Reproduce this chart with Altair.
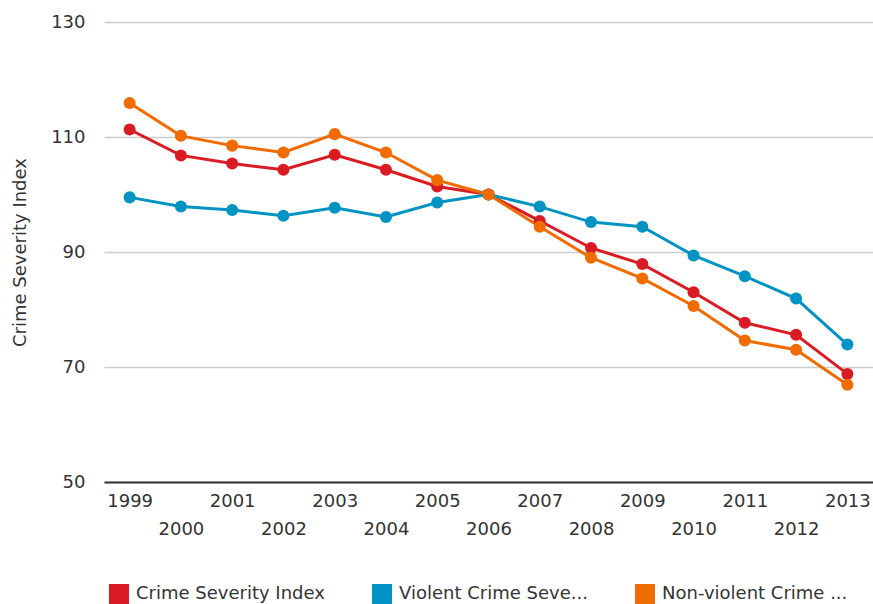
import altair as alt
import pandas as pd

years = ["1999", "2000", "2001", "2002", "2003", "2004", "2005", "2006",
         "2007", "2008", "2009", "2010", "2011", "2012", "2013"]
series_names = ["Crime Severity Index",
                "Violent Crime Severity Index",
                "Non-violent Crime Severity Index"]
csi = [111.3, 106.8, 105.4, 104.3, 106.9, 104.3, 101.4, 100.0,
       95.4, 90.7, 87.9, 83.0, 77.7, 75.6, 68.8]
vcsi = [99.5, 97.9, 97.3, 96.3, 97.7, 96.1, 98.6, 100.0,
        97.9, 95.2, 94.4, 89.4, 85.8, 81.9, 73.9]
nvcsi = [115.9, 110.2, 108.5, 107.3, 110.5, 107.3, 102.5, 100.0,
         94.4, 89.0, 85.4, 80.6, 74.6, 73.0, 66.9]
colors = ["#db1b23", "#0093c4", "#f06b00"]
y_ticks = [50, 70, 90, 110, 130]

rows = []
for name, vals in zip(series_names, [csi, vcsi, nvcsi]):
    for y, v in zip(years, vals):
        rows.append({"year": y, "series": name, "value": v})
df = pd.DataFrame(rows)

FONT = "DejaVu Sans"
FS = 18

x = alt.X("year:O", sort=years, title=None,
          scale=alt.Scale(type="point", padding=0.5),
          axis=alt.Axis(labelAngle=0, ticks=False, tickSize=0, grid=False,
                        domainColor="#333333", domainWidth=2,
                        labelPadding=10, labelLineHeight=28,
                        labelFont=FONT, labelFontSize=FS, labelColor="#333333",
                        labelExpr="toNumber(datum.value) % 2 == 0 ? ['', datum.label] : datum.label"))
y = alt.Y("value:Q", title="Crime Severity Index",
          scale=alt.Scale(domain=[50, 130], nice=False, zero=False),
          axis=alt.Axis(values=y_ticks, ticks=False, tickSize=0, domain=False,
                        gridColor="#cccccc", gridWidth=1.5,
                        labelPadding=19, labelFont=FONT, labelFontSize=FS,
                        labelColor="#333333",
                        titleFont=FONT, titleFontSize=FS, titleFontWeight="normal",
                        titleColor="#333333", titlePadding=21))
color = alt.Color("series:N", sort=series_names,
                  scale=alt.Scale(domain=series_names, range=colors),
                  legend=alt.Legend(orient="none", legendX=5, legendY=562,
                                    direction="horizontal", title=None,
                                    symbolType="square", symbolSize=400,
                                    symbolStrokeWidth=0, symbolOpacity=1,
                                    labelFont=FONT, labelFontSize=FS,
                                    labelColor="#333333", labelOffset=7,
                                    columnPadding=47, padding=0,
                                    labelLimit=400,
                                    labelExpr="length(datum.label) > 20 ? substring(datum.label, 0, 18) + '...' : datum.label"))

base = alt.Chart(df).encode(x=x, y=y, color=color)
lines = base.mark_line(strokeWidth=3)
points = base.mark_circle(size=145, opacity=1)

chart = alt.layer(lines, points).properties(
    width=769, height=460,
    autosize=alt.AutoSizeParams(type="none"),
    padding={"left": 104, "top": 22, "right": 0, "bottom": 122},
).configure(background="white").configure_view(stroke=None)

chart.save("out.html", embed_options={"renderer": "svg", "actions": False})
